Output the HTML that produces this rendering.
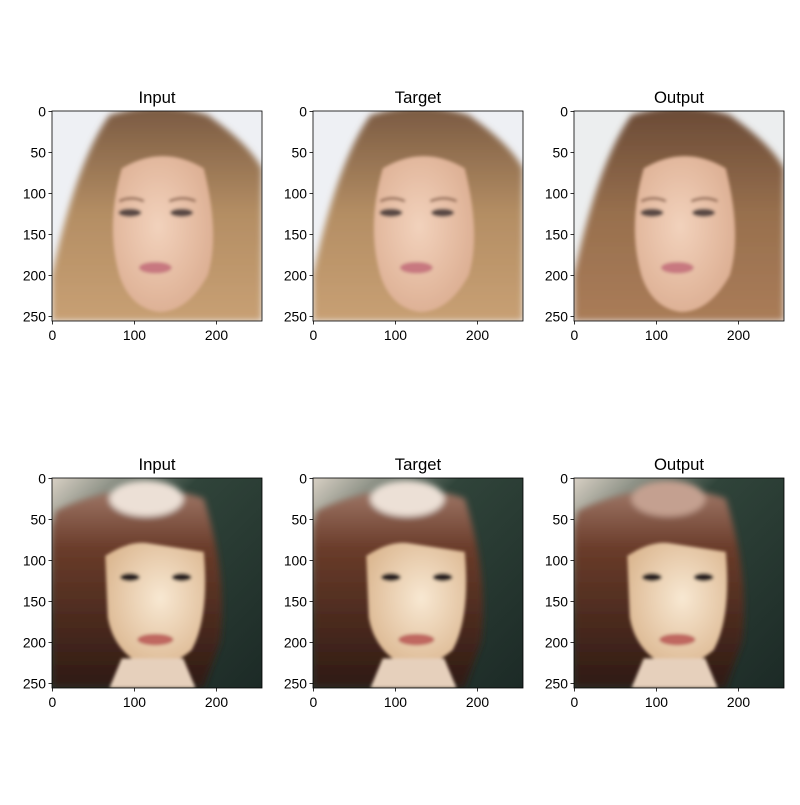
<!DOCTYPE html>
<html><head><meta charset="utf-8"><style>
html,body{margin:0;padding:0;background:#fff;}
svg text{font-family:"Liberation Sans","DejaVu Sans",sans-serif;}
</style></head><body>
<svg id="fig" width="800" height="800" viewBox="0 0 800 800" xmlns="http://www.w3.org/2000/svg">
<defs>
<filter id="bl" x="-20%" y="-20%" width="140%" height="140%"><feGaussianBlur stdDeviation="4"/></filter>
<filter id="bl2" x="-20%" y="-20%" width="140%" height="140%"><feGaussianBlur stdDeviation="2"/></filter>
<radialGradient id="skin1" cx="0.45" cy="0.45" r="0.6"><stop offset="0" stop-color="#f2d2bc"/><stop offset="1" stop-color="#dcae92"/></radialGradient>
<radialGradient id="skin2" cx="0.55" cy="0.45" r="0.6"><stop offset="0" stop-color="#f8e8d2"/><stop offset="1" stop-color="#dcb892"/></radialGradient>
<linearGradient id="bg2" x1="0" y1="0" x2="1" y2="1"><stop offset="0" stop-color="#d8d0c4"/><stop offset="0.35" stop-color="#30443a"/><stop offset="1" stop-color="#1c2a26"/></linearGradient>
<linearGradient id="hair1" x1="0" y1="0" x2="0" y2="1"><stop offset="0" stop-color="#7a5a42"/><stop offset="0.5" stop-color="#b48e64"/><stop offset="1" stop-color="#c8a074"/></linearGradient>
<linearGradient id="hair1o" x1="0" y1="0" x2="0" y2="1"><stop offset="0" stop-color="#6a4a36"/><stop offset="0.5" stop-color="#98704e"/><stop offset="1" stop-color="#aa7c58"/></linearGradient>
<linearGradient id="hair2" x1="0" y1="0" x2="0" y2="1"><stop offset="0" stop-color="#a07868"/><stop offset="0.3" stop-color="#6a3c2a"/><stop offset="1" stop-color="#2e1a14"/></linearGradient>
</defs>
<g id="panels"></g>
</svg>
<script>
const rowTops = [111, 478];
const colLefts = [52, 313, 574];
const titles = ['Input', 'Target', 'Output'];
const xTicks = [0, 100, 200];
const yTicks = [0, 50, 100, 150, 200, 250];
const imgSize = 256;
const axSize = 210;
const NS = 'http://www.w3.org/2000/svg';
const root = document.getElementById('panels');
function mk(tag, attrs, parent){const e=document.createElementNS(NS,tag);for(const k in attrs)e.setAttribute(k,attrs[k]);parent.appendChild(e);return e;}
function sx(v){return (v+0.5)*axSize/imgSize;}
function drawFace(g, row, out){
  if(row===0){
    mk('rect',{x:0,y:0,width:256,height:256,fill:out?'#eceeef':'#eef0f4'},g);
    const hg=mk('g',{filter:'url(#bl)'},g);
    mk('path',{d:'M70 5 Q130 -15 190 5 Q240 40 256 70 L256 256 L0 256 L0 200 Q30 60 70 5 Z',fill:out?'url(#hair1o)':'url(#hair1)'},hg);
    const fg=mk('g',{filter:'url(#bl2)'},g);
    mk('path',{d:'M85 70 Q135 40 185 70 Q205 150 190 200 Q165 245 130 245 Q95 240 82 200 Q65 140 85 70 Z',fill:'url(#skin1)'},fg);
    mk('ellipse',{cx:95,cy:124,rx:14,ry:5,fill:'#5a4a44'},fg);
    mk('ellipse',{cx:158,cy:124,rx:14,ry:5,fill:'#5a4a44'},fg);
    mk('path',{d:'M82 110 Q97 103 112 110',stroke:'#8a6048',"stroke-width":3,fill:'none'},fg);
    mk('path',{d:'M143 110 Q160 103 175 110',stroke:'#8a6048',"stroke-width":3,fill:'none'},fg);
    mk('ellipse',{cx:126,cy:191,rx:20,ry:7,fill:'#c87880'},fg);
  } else {
    mk('rect',{x:0,y:0,width:256,height:256,fill:'url(#bg2)'},g);
    const hg=mk('g',{filter:'url(#bl)'},g);
    mk('path',{d:'M5 40 Q100 -5 185 25 Q215 120 205 200 L185 256 L0 256 L0 60 Z',fill:'url(#hair2)'},hg);
    mk('ellipse',{cx:115,cy:25,rx:45,ry:22,fill:out?'#c4a090':'#ece0d6'},hg);
    const fg=mk('g',{filter:'url(#bl2)'},g);
    mk('path',{d:'M65 95 Q95 75 120 80 L185 90 Q192 170 170 210 Q140 235 110 228 Q75 210 68 170 Z',fill:'url(#skin2)'},fg);
    mk('ellipse',{cx:95,cy:121,rx:12,ry:5,fill:'#2a2020'},fg);
    mk('ellipse',{cx:158,cy:121,rx:12,ry:5,fill:'#2a2020'},fg);
    mk('ellipse',{cx:126,cy:197,rx:22,ry:7,fill:'#c06860'},fg);
    mk('path',{d:'M85 220 L160 220 L175 256 L70 256 Z',fill:'#e6d0bc'},fg);
  }
}
rowTops.forEach((top,r)=>{
  colLefts.forEach((left,c)=>{
    const ax=mk('g',{transform:`translate(${left},${top})`},root);
    
    
    const cid='clip'+r+c;
    const cp=mk('clipPath',{id:cid},ax);
    mk('rect',{x:0,y:0,width:axSize,height:axSize},cp);
    const img=mk('g',{'clip-path':`url(#${cid})`},ax);
    const inner=mk('g',{transform:`scale(${axSize/imgSize})`},img);
    
    
    drawFace(inner,r,c===2);
    const fr=mk('rect',{x:0,y:0,width:axSize,height:axSize,fill:'none',stroke:'#000','stroke-width':0.8},ax);
    
    
    const t=mk('text',{x:axSize/2,y:-8,'text-anchor':'middle','font-size':16.7},ax);
    t.textContent=titles[c];
    
    
    xTicks.forEach(v=>{
      const x=sx(v);
      mk('line',{x1:x,y1:axSize,x2:x,y2:axSize+3.5,stroke:'#000','stroke-width':0.8},ax);
      const l=mk('text',{x:x,y:axSize+19,'text-anchor':'middle','font-size':13.9},ax);
      l.textContent=v;
      
      
    });
    yTicks.forEach(v=>{
      const y=sx(v);
      mk('line',{x1:0,y1:y,x2:-3.5,y2:y,stroke:'#000','stroke-width':0.8},ax);
      const l=mk('text',{x:-6,y:y+5,'text-anchor':'end','font-size':13.9},ax);
      l.textContent=v;
      
      
    });
  });
});
</script>
</body></html>
